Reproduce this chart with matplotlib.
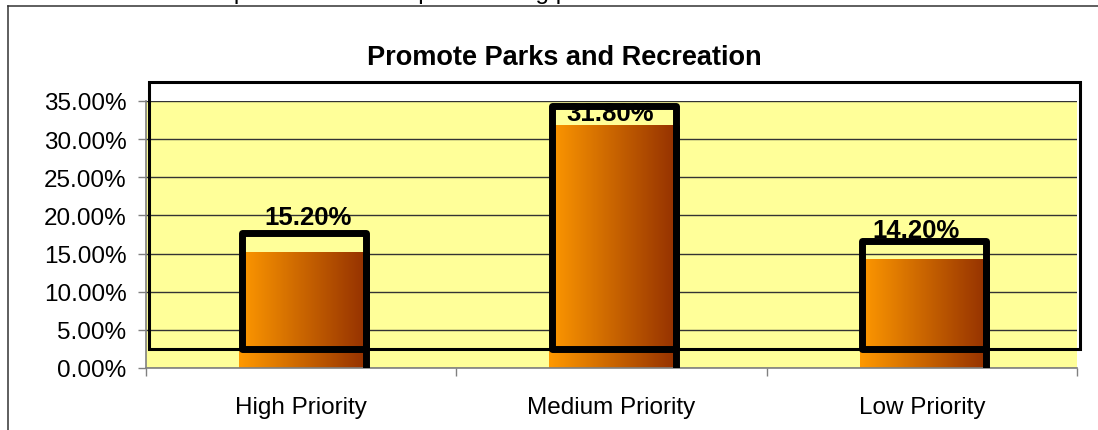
#! /usr/bin/python3

import numpy as np
import matplotlib
matplotlib.use("Agg")
import matplotlib.pyplot as plt
from matplotlib.patches import Rectangle
from matplotlib.lines import Line2D
from matplotlib.transforms import ScaledTranslation
from matplotlib.ticker import FuncFormatter, FixedLocator

OUT_FNAME = "out.png"

TITLE = "Promote Parks and Recreation"
HEADER = "Importance of all capital funding priorities"

categories = ["High Priority", "Medium Priority", "Low Priority"]
shares = [0.152, 0.318, 0.142]
value_labels = ["15.20%", "31.80%", "14.20%"]
y_ticks = [0.0, 0.05, 0.10, 0.15, 0.20, 0.25, 0.30, 0.35]

PLOT_BG = "#FFFF99"
BAR_LEFT = (1.0, 0.60, 0.0)
BAR_RIGHT = (0.59, 0.20, 0.0)
BAR_WIDTH = 0.4

# label offsets in points (dx, dy) from the top of each bar
LABEL_OFFSETS = [(4.7, 20.2), (-1.1, 4.2), (-4.3, 16.2)]


def gradient():
    t = np.linspace(0, 1, 256)
    rgb = np.outer(1 - t, BAR_LEFT) + np.outer(t, BAR_RIGHT)
    return rgb[np.newaxis, :, :]


def plot():
    plt.rcParams["font.family"] = ["Liberation Sans", "DejaVu Sans"]

    W, H = 1098, 431
    fig = plt.figure(figsize=(W / 100, H / 100), dpi=100)
    fig.patch.set_facecolor("white")

    ax = fig.add_axes([146 / W, 62 / H, 931 / W, 267 / H])
    ax.set_facecolor(PLOT_BG)

    x = np.arange(len(categories))
    grad = gradient()

    # offset used by the heavy black outlines and the plot frame
    shift = ScaledTranslation(0.025, 0.19, fig.dpi_scale_trans)
    shift_x = ScaledTranslation(0.025, 0.0, fig.dpi_scale_trans)

    for xi, v in zip(x, shares):
        ax.imshow(grad, extent=[xi - BAR_WIDTH / 2, xi + BAR_WIDTH / 2, 0, v],
                  aspect="auto", interpolation="bilinear", zorder=2)
        outline = Rectangle((xi - BAR_WIDTH / 2, 0), BAR_WIDTH, v, fill=False,
                            edgecolor="black", linewidth=5, joinstyle="round",
                            transform=ax.transData + shift, zorder=4)
        ax.add_patch(outline)
        ax.add_line(Line2D([xi + BAR_WIDTH / 2] * 2, [0, v], color="black",
                           linewidth=5, solid_capstyle="butt",
                           transform=ax.transData + shift_x, zorder=4))

    for xi, v, lab, (dx, dy) in zip(x, shares, value_labels, LABEL_OFFSETS):
        ax.annotate(lab, (xi, v), xytext=(dx, dy), textcoords="offset points",
                    ha="center", va="baseline", fontsize=18.5,
                    fontweight="bold", zorder=3)

    frame = Rectangle((0, 0), 1, 1, fill=False, edgecolor="black",
                      linewidth=2.2, transform=ax.transAxes + shift,
                      clip_on=False, zorder=5)
    ax.add_patch(frame)

    ax.set_xlim(-0.5, len(categories) - 0.5)
    ax.set_ylim(0, 0.35)

    ax.set_yticks(y_ticks)
    ax.yaxis.set_major_formatter(FuncFormatter(lambda v, _: "%.2f%%" % (v * 100)))
    ax.set_xticks(x)
    ax.set_xticklabels(categories)
    ax.xaxis.set_minor_locator(FixedLocator(np.arange(len(categories) + 1) - 0.5))

    ax.grid(axis="y", color="#333333", linewidth=1.0)
    ax.set_axisbelow(True)

    ax.tick_params(axis="y", length=6, width=1, color="#808080", pad=8,
                   labelsize=17.5)
    ax.tick_params(axis="x", which="major", length=0, pad=20, labelsize=17.5)
    ax.tick_params(axis="x", which="minor", length=6, width=1, color="#808080")

    for side in ("top", "right"):
        ax.spines[side].set_visible(False)
    for side in ("left", "bottom"):
        ax.spines[side].set_color("#808080")
        ax.spines[side].set_linewidth(1.2)

    fig.text(564 / W, 1 - 65 / H, TITLE, ha="center", va="baseline",
             fontsize=19.5, fontweight="bold")

    # header line above the chart border; only its descenders fall on the page
    fig.text(207 / W, 1 + 0.5 / H, HEADER, ha="left", va="baseline",
             fontsize=17.5)

    fig.add_artist(Line2D([8 / W, 1], [1 - 7 / H, 1 - 7 / H],
                          color="#333333", linewidth=1.1))
    fig.add_artist(Line2D([8 / W, 8 / W], [0, 1 - 7 / H],
                          color="#333333", linewidth=1.1))

    fig.savefig(OUT_FNAME, dpi=100)


def main():
    plot()


if __name__ == "__main__":
    main()
